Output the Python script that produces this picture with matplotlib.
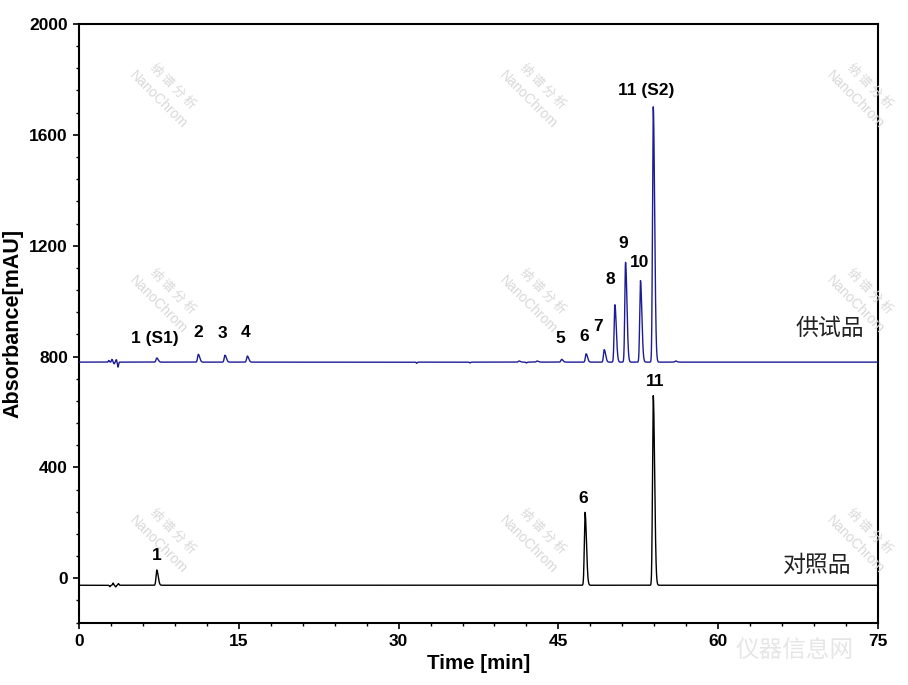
import numpy as np
import matplotlib
matplotlib.use("Agg")
import matplotlib.pyplot as plt
from matplotlib.ticker import MultipleLocator

plt.rcParams['font.family'] = ['Liberation Sans', 'Noto Sans CJK SC', 'DejaVu Sans']

# peak tables: retention time (min), height above baseline (mAU)
sample_baseline = 780
sample_rt = [2.8, 3.1, 3.3, 3.5, 3.66, 7.3, 11.2, 13.7, 15.8, 31.7, 36.7, 41.3, 42.0, 43.0,
             45.3, 47.6, 49.3, 50.3, 51.3, 52.7, 53.9, 56.0]
sample_h = [6, 10, -6, 9, -18, 15, 28, 25, 22, -4, -3, 4, -3, 4,
            10, 30, 45, 207, 360, 294, 921, 4]

ref_baseline = -25
ref_rt = [2.9, 3.2, 3.45, 3.7, 7.3, 47.5, 53.9]
ref_h = [-5, 8, -6, 6, 55, 263, 684]

sample_labels = ["1 (S1)", "2", "3", "4", "5", "6", "7", "8", "9", "10", "11 (S2)"]
sample_label_x = [7.14, 11.17, 13.43, 15.59, 45.16, 47.4, 48.73, 49.86, 51.08, 52.58, 53.24]
sample_label_y = [865, 886, 883, 886, 865, 872, 908, 1077, 1207, 1139, 1759]

ref_labels = ["1", "6", "11"]
ref_label_x = [7.32, 47.3, 54.08]
ref_label_y = [83, 288, 710]

t = np.arange(0, 75.01, 0.01)


def trace(base, rts, hs):
    y = np.full_like(t, float(base))
    for rt, h in zip(rts, hs):
        sl, sr = 0.07, 0.13
        if h < 0 or rt < 4:
            sl, sr = 0.05, 0.05
        s = np.where(t < rt, sl, sr)
        y += h * np.exp(-0.5 * ((t - rt) / s) ** 2)
    return y


fig = plt.figure(figsize=(9.08, 6.85), dpi=100)
ax = fig.add_axes([0.087, 0.091, 0.880, 0.874])

ax.plot(t, trace(sample_baseline, sample_rt, sample_h), color='#1c1c96', lw=1.0, zorder=3)
ax.plot(t, trace(ref_baseline, ref_rt, ref_h), color='black', lw=1.0, zorder=3)

for lab, x, y in zip(sample_labels, sample_label_x, sample_label_y):
    ax.text(x, y, lab, ha='center', va='center', fontsize=12.5, fontweight='bold', zorder=4)
for lab, x, y in zip(ref_labels, ref_label_x, ref_label_y):
    ax.text(x, y, lab, ha='center', va='center', fontsize=12.5, fontweight='bold', zorder=4)

ax.text(70.5, 901, "供试品", ha='center', va='center', fontsize=16.5,
        family=['Noto Sans CJK SC'], color='#222222', zorder=4)
ax.text(69.3, 47, "对照品", ha='center', va='center', fontsize=16.5,
        family=['Noto Sans CJK SC'], color='#222222', zorder=4)

ax.set_xlim(0, 75)
ax.set_ylim(-160, 2000)
ax.xaxis.set_major_locator(MultipleLocator(15))
ax.xaxis.set_minor_locator(MultipleLocator(3))
ax.yaxis.set_major_locator(MultipleLocator(400))
ax.yaxis.set_minor_locator(MultipleLocator(80))
ax.tick_params(which='major', direction='out', length=4, width=1.2, labelsize=12.5, pad=4)
ax.tick_params(which='minor', direction='out', length=2.5, width=1.0)
for lab in ax.get_xticklabels() + ax.get_yticklabels():
    lab.set_fontweight('bold')
for sp in ax.spines.values():
    sp.set_linewidth(1.5)

ax.set_xlabel("Time [min]", fontsize=14.8, fontweight='bold', labelpad=4)
ax.set_ylabel("Absorbance[mAU]", fontsize=15.5, fontweight='bold', labelpad=4)

# faint watermarks
wm_x = [165, 535, 862]
wm_y = [95, 300, 540]
for px in wm_x:
    for py in wm_y:
        fx, fy = px / 908, 1 - py / 685
        fig.text(fx + 0.009, fy + 0.013, "纳 谱 分 析", rotation=-45, ha='center', va='center',
                 fontsize=9, color='#d8d8d8', family=['Noto Sans CJK SC'], zorder=0)
        fig.text(fx - 0.007, fy - 0.007, "NanoChrom", rotation=-45, ha='center', va='center',
                 fontsize=10, color='#d8d8d8', zorder=0)
fig.text(795 / 908, 1 - 650 / 685, "仪器信息网", ha='center', va='center', fontsize=17,
         color='#e6e6e6', family=['Noto Sans CJK SC'], zorder=0)

fig.savefig("out.png", dpi=100)
